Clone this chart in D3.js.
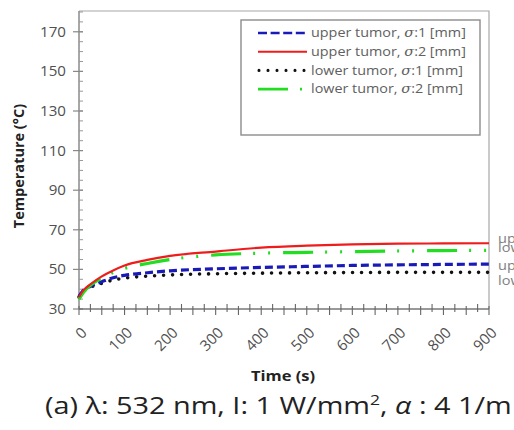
<!DOCTYPE html>
<html>
<head>
<meta charset="utf-8">
<script src="https://cdn.jsdelivr.net/npm/d3@7"></script>
<style>
  body { margin: 0; background: #fff; }
  svg { display: block; }
</style>
</head>
<body>
<div id="chart"></div>
<script>
// data
var times      = [0, 10, 25, 50, 75, 100, 150, 200, 300, 400, 500, 600, 700, 800, 900];
var upperSig1  = [36.5, 39.5, 41.5, 43.8, 45.8, 47, 48.3, 49.3, 50.3, 51, 51.5, 52, 52.3, 52.5, 52.7];
var upperSig2  = [36, 39.5, 42.5, 46.5, 49.5, 52, 54.8, 56.8, 59, 61, 62, 62.6, 63, 63.1, 63.2];
var lowerSig1  = [36, 39, 41, 43, 44.6, 45.6, 46.6, 47.2, 47.8, 48.1, 48.3, 48.4, 48.5, 48.5, 48.5];
var lowerSig2  = [35, 38.5, 42, 45.5, 48.5, 50.5, 53, 55, 57.3, 58.2, 58.6, 59, 59.3, 59.5, 59.6];
var yTicks     = [30, 50, 70, 90, 110, 130, 150, 170];
var xTicks     = [0, 100, 200, 300, 400, 500, 600, 700, 800, 900];

var series = [
  {name: "upper tumor", sigma: "1", values: upperSig1, color: "#1a1ab8", width: 3.2, dash: "8,4", cap: "butt"},
  {name: "upper tumor", sigma: "2", values: upperSig2, color: "#ee1c1c", width: 2.2, dash: null, cap: "butt"},
  {name: "lower tumor", sigma: "1", values: lowerSig1, color: "#111111", width: 3.6, dash: "0,9", cap: "round"},
  {name: "lower tumor", sigma: "2", values: lowerSig2, color: "#22dd22", width: 3.2, dash: "30,12,2,13,2,13", cap: "butt"}
];

var font = "'Open Sans', sans-serif";

var svg = d3.select("#chart")
  .append("svg")
  .attr("width", 514)
  .attr("height", 430);

var x = d3.scaleLinear()
  .domain([0, 900])
  .range([79, 489]);

var y = d3.scaleLinear()
  .domain([30, 180.5])
  .range([309, 11]);

// frame (top and right)
svg.append("path")
  .attr("d", "M" + x(0) + "," + y(180.5) + "H" + x(900) + "V" + y(30))
  .attr("fill", "none")
  .attr("stroke", "#a8a8a8")
  .attr("stroke-width", 1.2);

// y axis
var yAxis = svg.append("g")
  .attr("transform", "translate(" + x(0) + ",0)");
yAxis.append("line")
  .attr("y1", y(30)).attr("y2", y(180.5))
  .attr("stroke", "#8a8a8a").attr("stroke-width", 1.5);
yAxis.selectAll(".minor")
  .data(d3.range(30, 181, 5))
  .enter().append("line")
  .attr("x1", 0).attr("x2", 4)
  .attr("y1", function(d) { return y(d); })
  .attr("y2", function(d) { return y(d); })
  .attr("stroke", "#999").attr("stroke-width", 1);
yAxis.selectAll(".major")
  .data(yTicks)
  .enter().append("line")
  .attr("x1", -6).attr("x2", 4)
  .attr("y1", function(d) { return y(d); })
  .attr("y2", function(d) { return y(d); })
  .attr("stroke", "#888").attr("stroke-width", 1.2);
yAxis.selectAll("text")
  .data(yTicks)
  .enter().append("text")
  .attr("transform", function(d) { return "translate(-13," + y(d) + ") scale(1.08,1)"; })
  .attr("dy", "0.35em")
  .attr("text-anchor", "end")
  .style("font-family", font)
  .style("font-size", "14px")
  .attr("fill", "#505050")
  .text(function(d) { return d; });

// x axis
var xAxis = svg.append("g")
  .attr("transform", "translate(0," + y(30) + ")");
xAxis.append("line")
  .attr("x1", x(0)).attr("x2", x(900))
  .attr("stroke", "#777").attr("stroke-width", 1.6);
xAxis.selectAll(".minor")
  .data(d3.range(0, 901, 25))
  .enter().append("line")
  .attr("x1", function(d) { return x(d); })
  .attr("x2", function(d) { return x(d); })
  .attr("y1", function(d, i) { return i % 2 ? -5 : -3; })
  .attr("y2", function(d, i) { return i % 2 ? 3 : 6; })
  .attr("stroke", "#666").attr("stroke-width", 1.1);
xAxis.selectAll("text")
  .data(xTicks)
  .enter().append("text")
  .attr("transform", function(d) { return "translate(" + (x(d) + 5) + ",21) rotate(-45)"; })
  .attr("text-anchor", "end")
  .attr("dy", "0.35em")
  .style("font-family", font)
  .style("font-size", "15px")
  .attr("fill", "#505050")
  .text(function(d) { return d; });

// axis titles
svg.append("text")
  .attr("transform", "translate(24,166) rotate(-90)")
  .attr("text-anchor", "middle")
  .style("font-family", font)
  .style("font-size", "14.5px")
  .style("font-weight", "bold")
  .attr("fill", "#222")
  .text("Temperature (°C)");

svg.append("text")
  .attr("transform", "translate(283,381) scale(1.1,1)")
  .attr("text-anchor", "middle")
  .style("font-family", font)
  .style("font-size", "15px")
  .style("font-weight", "bold")
  .attr("fill", "#222")
  .text("Time (s)");

// lines
var line = d3.line()
  .curve(d3.curveMonotoneX)
  .x(function(d, i) { return x(times[i]); })
  .y(function(d) { return y(d); });

var draw = [series[2], series[0], series[3], series[1]];
svg.selectAll(".series")
  .data(draw)
  .enter().append("path")
  .attr("d", function(d) { return line(d.values); })
  .attr("fill", "none")
  .attr("stroke", function(d) { return d.color; })
  .attr("stroke-width", function(d) { return d.width; })
  .attr("stroke-dasharray", function(d) { return d.dash; })
  .attr("stroke-linecap", function(d) { return d.cap; });

// end labels, they run past the page edge as in the source figure
var endOrder = [series[1], series[3], series[0], series[2]];
var nudge = [-5, -3, 1, 8];
svg.selectAll(".endlab")
  .data(endOrder)
  .enter().append("text")
  .attr("transform", function(d, i) {
    return "translate(" + (x(900) + 9) + "," + (y(d.values[d.values.length - 1]) + nudge[i]) + ") scale(1.12,1)";
  })
  .attr("dy", "0.35em")
  .style("font-family", font)
  .style("font-size", "13px")
  .attr("fill", "#808080")
  .text(function(d) { return d.name + ", σ:" + d.sigma + " [mm]"; });

// legend
var legend = svg.append("g");
legend.append("rect")
  .attr("x", 241).attr("y", 20)
  .attr("width", 239).attr("height", 115)
  .attr("fill", "#fff")
  .attr("stroke", "#8c8c8c")
  .attr("stroke-width", 1.4);

var rows = legend.selectAll(".row")
  .data(series)
  .enter().append("g")
  .attr("transform", function(d, i) { return "translate(0," + (33 + i * 18.7) + ")"; });
rows.append("line")
  .attr("x1", function(d) { return d.cap === "round" ? 259 : 258; })
  .attr("x2", 307)
  .attr("stroke", function(d) { return d.color; })
  .attr("stroke-width", function(d) { return d.width * 0.85; })
  .attr("stroke-dasharray", function(d) { return d.dash === "8,4" ? "9,3.6" : d.dash; })
  .attr("stroke-linecap", function(d) { return d.cap; });
var lt = rows.append("text")
  .attr("transform", "translate(311,0) scale(1.15,1)")
  .attr("dy", "0.35em")
  .style("font-family", font)
  .style("font-size", "12.5px")
  .attr("fill", "#606060");
lt.append("tspan").text(function(d) { return d.name + ", "; });
lt.append("tspan").style("font-style", "italic").style("font-family", "'DejaVu Serif', serif").text("σ");
lt.append("tspan").text(function(d) { return ":" + d.sigma + " [mm]"; });

// caption, stretched to the width it has in the source
var cap = svg.append("text")
  .style("font-family", font)
  .style("font-size", "23px")
  .attr("fill", "#222");
cap.append("tspan").text("(a) λ: 532 nm, I: 1 W/mm");
cap.append("tspan").attr("dy", -9).style("font-size", "14px").text("2");
cap.append("tspan").attr("dy", 9).text(", ");
cap.append("tspan").style("font-style", "italic").text("α");
cap.append("tspan").text(" : 4 1/m");
var capW = cap.node().getBBox().width;
cap.attr("transform", "translate(45,414) scale(" + (467 / capW) + ",1)");
</script>
</body>
</html>
